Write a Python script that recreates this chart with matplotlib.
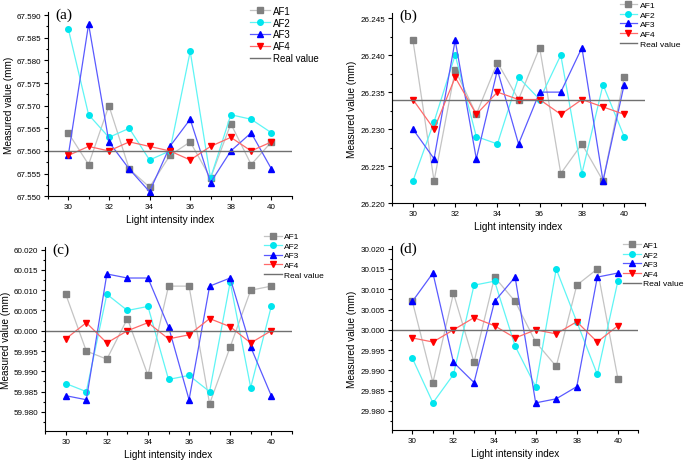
import matplotlib
matplotlib.use("Agg")
import matplotlib.pyplot as plt
from matplotlib.ticker import MultipleLocator, FormatStrFormatter

plt.rcParams['font.family'] = ['Liberation Sans', 'DejaVu Sans']

x = [30, 31, 32, 33, 34, 35, 36, 37, 38, 39, 40]

# (a)
a_af1 = [67.564, 67.557, 67.570, 67.556, 67.552, 67.559, 67.562, 67.554, 67.566, 67.557, 67.562]
a_af2 = [67.587, 67.568, 67.563, 67.565, 67.558, 67.560, 67.582, 67.554, 67.568, 67.567, 67.564]
a_af3 = [67.559, 67.588, 67.562, 67.556, 67.551, 67.561, 67.567, 67.553, 67.560, 67.564, 67.556]
a_af4 = [67.559, 67.561, 67.560, 67.562, 67.561, 67.560, 67.558, 67.561, 67.563, 67.560, 67.562]
a_real = 67.560

# (b)
b_af1 = [26.242, 26.223, 26.238, 26.232, 26.239, 26.234, 26.241, 26.224, 26.228, 26.223, 26.237]
b_af2 = [26.223, 26.231, 26.240, 26.229, 26.228, 26.237, 26.234, 26.240, 26.224, 26.236, 26.229]
b_af3 = [26.230, 26.226, 26.242, 26.226, 26.238, 26.228, 26.235, 26.235, 26.241, 26.223, 26.236]
b_af4 = [26.234, 26.230, 26.237, 26.232, 26.235, 26.234, 26.234, 26.232, 26.234, 26.233, 26.232]
b_real = 26.234

# (c)
c_af1 = [60.009, 59.995, 59.993, 60.003, 59.989, 60.011, 60.011, 59.982, 59.996, 60.010, 60.011]
c_af2 = [59.987, 59.985, 60.009, 60.005, 60.006, 59.988, 59.989, 59.985, 60.012, 59.986, 60.006]
c_af3 = [59.984, 59.983, 60.014, 60.013, 60.013, 60.001, 59.983, 60.011, 60.013, 59.996, 59.984]
c_af4 = [59.998, 60.002, 59.997, 60.000, 60.002, 59.998, 59.999, 60.003, 60.001, 59.997, 60.000]
c_real = 60.000

# (d)
d_af1 = [30.007, 29.987, 30.009, 29.992, 30.013, 30.007, 29.997, 29.991, 30.011, 30.015, 29.988]
d_af2 = [29.993, 29.982, 29.989, 30.011, 30.012, 29.996, 29.986, 30.015, 30.002, 29.989, 30.012]
d_af3 = [30.007, 30.014, 29.992, 29.987, 30.007, 30.013, 29.982, 29.983, 29.986, 30.013, 30.014]
d_af4 = [29.998, 29.997, 30.000, 30.003, 30.001, 29.998, 30.000, 29.999, 30.002, 29.997, 30.001]
d_real = 30.000

names = ["AF1", "AF2", "AF3", "AF4"]
line_cols = ["#c4c4c4", "#5ff5f5", "#5a5aff", "#ff6a6a"]
mark_cols = ["#808080", "#00e5ee", "#0000ff", "#ff0000"]
markers = ["s", "o", "^", "v"]

# label, series, real, ylim, axes rect, legend anchor, legend font, legend spacing
panels = [
    ("(a)", [a_af1, a_af2, a_af3, a_af4], a_real, (67.550, 67.5907),
     [0.070, 0.575, 0.356, 0.397], (0.362, 0.990), 7.0, 0.2),
    ("(b)", [b_af1, b_af2, b_af3, b_af4], b_real, (26.220, 26.2457),
     [0.572, 0.560, 0.370, 0.410], (0.902, 0.999), 6.1, 0.2),
    ("(c)", [c_af1, c_af2, c_af3, c_af4], c_real, (59.9753, 60.0207),
     [0.066, 0.069, 0.360, 0.397], (0.383, 0.500), 6.0, 0.2),
    ("(d)", [d_af1, d_af2, d_af3, d_af4], d_real, (29.9753, 30.0207),
     [0.572, 0.071, 0.360, 0.397], (0.907, 0.482), 6.1, 0.2),
]

fig = plt.figure(figsize=(6.85, 4.64), dpi=100)

for lab, series, real, ylim, rect, legpos, legfs, legsp in panels:
    ax = fig.add_axes(rect)
    for s, n, lc, mc, m in zip(series, names, line_cols, mark_cols, markers):
        ax.plot(x, s, color=lc, lw=0.9, marker=m, ms=4, mfc=mc, mec=mc, label=n)
    ax.axhline(real, color="#707070", lw=1.0, label="Real value")
    ax.set_xlim(29, 41)
    ax.set_ylim(*ylim)
    ax.xaxis.set_major_locator(MultipleLocator(2))
    ax.xaxis.set_minor_locator(MultipleLocator(1))
    ax.yaxis.set_major_locator(MultipleLocator(0.005))
    ax.yaxis.set_minor_locator(MultipleLocator(0.0025))
    ax.yaxis.set_major_formatter(FormatStrFormatter("%.3f"))
    ax.spines["top"].set_visible(False)
    ax.spines["right"].set_visible(False)
    ax.tick_params(which="major", length=3, width=0.8, labelsize=5.8, pad=2)
    ax.tick_params(which="minor", length=1.8, width=0.8)
    ax.set_xlabel("Light intensity index", fontsize=7.2, labelpad=3)
    ax.set_ylabel("Measured value (mm)", fontsize=7.2, labelpad=2)
    ax.text(0.03, 1.025, lab, transform=ax.transAxes, family="Liberation Serif",
            fontsize=11, va="top", ha="left")
    fig.legend(loc="upper left", bbox_to_anchor=legpos, frameon=False,
               fontsize=legfs, handlelength=2.1, handletextpad=0.3,
               labelspacing=legsp, borderpad=0.2, borderaxespad=0.0,
               handles=ax.get_legend_handles_labels()[0])

fig.savefig("out.png", dpi=100)
